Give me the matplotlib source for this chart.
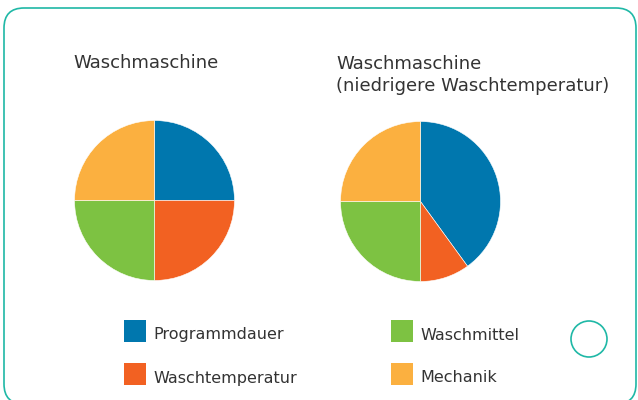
import matplotlib.pyplot as plt
from matplotlib.patches import FancyBboxPatch, Rectangle, Circle

# Daten
kategorien = ["Programmdauer", "Waschtemperatur", "Waschmittel", "Mechanik"]
farben = ["#0077ae", "#f26122", "#7dc242", "#fbb040"]
werte_normal = [25, 25, 25, 25]
werte_niedrig = [40, 10, 25, 25]
titel_links = "Waschmaschine"
titel_rechts = "Waschmaschine\n(niedrigere Waschtemperatur)"

W, H = 638, 400
textfarbe = "#333333"
teal = "#1fb8a6"

fig = plt.figure(figsize=(W / 100, H / 100), dpi=100)
ax = fig.add_axes([0, 0, 1, 1])

# Pixel (von oben) -> Datenkoordinaten
def py(y):
    return H - y

ax.pie(werte_normal, colors=farben, center=(154.5, py(200.5)), radius=80,
       startangle=90, counterclock=False,
       wedgeprops=dict(edgecolor="white", linewidth=0.4))
ax.pie(werte_niedrig, colors=farben, center=(420.5, py(201.5)), radius=80,
       startangle=90, counterclock=False,
       wedgeprops=dict(edgecolor="white", linewidth=0.4))

ax.text(73, py(63), titel_links, fontsize=13, color=textfarbe,
        ha="left", va="center")
ax.text(336, py(75), titel_rechts, fontsize=13, color=textfarbe,
        ha="left", va="center", linespacing=1.3)

# Legende
pos = [(124, 320), (124, 363), (391, 320), (391, 363)]
for (x, y), name, c in zip(pos, kategorien, farben):
    ax.add_patch(Rectangle((x, py(y + 22)), 22, 22, color=c, lw=0))
    ax.text(x + 29, py(y + 15), name, fontsize=11.5, color=textfarbe,
            ha="left", va="center")

# Rahmen und Kreis
ax.add_patch(FancyBboxPatch((4, py(404)), 632, 396,
                            boxstyle="round,pad=0,rounding_size=20",
                            fc="none", ec=teal, lw=1.2, clip_on=False))
ax.add_patch(Circle((589, py(339)), 18, fc="none", ec=teal, lw=1.2))

ax.set_xlim(0, W)
ax.set_ylim(0, H)
ax.set_aspect("auto")
ax.axis("off")

fig.savefig("out.png", dpi=100)
